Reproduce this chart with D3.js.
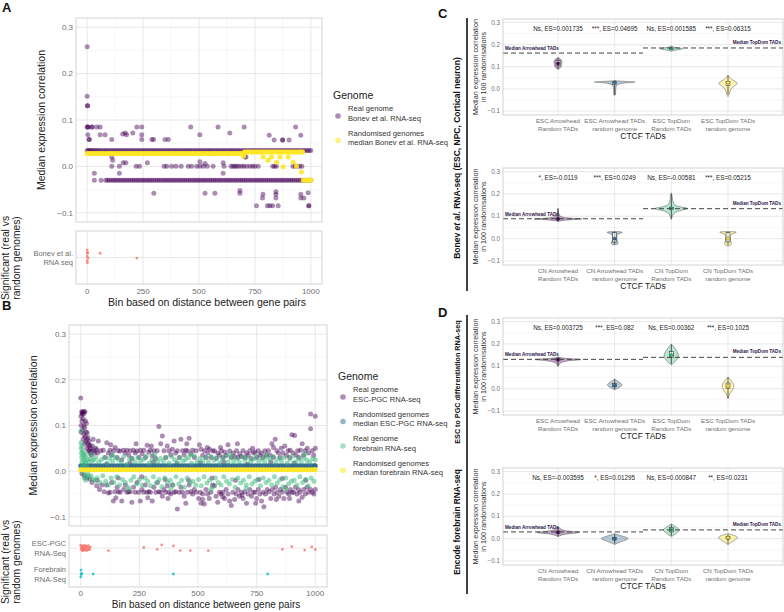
<!DOCTYPE html>
<html>
<head>
<meta charset="utf-8">
<script src="https://cdn.jsdelivr.net/npm/d3@7"></script>
<style>
  body { margin: 0; background: #fff; }
  svg { font-family: "Liberation Sans", Arial, sans-serif; }
</style>
</head>
<body>
<svg id="fig" width="784" height="612"></svg>
<script>
// ---------- shared ticks ----------
const binTicks = [0, 250, 500, 750, 1000];
const binMinor = [125, 375, 625, 875];
const corrTicks = [-0.1, 0, 0.1, 0.2, 0.3];
const corrMinor = [-0.05, 0.05, 0.15, 0.25];

// ---------- panel A : Bonev et al. ----------
// [bin, median correlation]
const bonevReal = [
  [0,0.258],[0,0.151],[1,0.131],[2,0.131],[0,0.085],[2,0.085],[5,0.085],[3,0.068],[8,0.058],[10,0.058],
  [20,0.085],[23,0.085],[43,0.085],[58,0.085],[58,0.068],[80,0.068],[110,0.058],[159,0.07],[170,0.072],
  [176,0.068],[204,0.072],[222,0.085],[244,0.085],[244,0.068],[244,0.058],[289,0.058],[297,0.058],
  [348,0.058],[363,0.058],[463,0.085],[504,0.068],[585,0.085],[638,0.072],[702,0.085],[932,0.085],
  [814,0.067],[955,0.067],[836,0.057],[874,0.057],[874,0.057],[903,0.057],
  [110,0.02],[114,0.013],[161,0.008],[173,0.008],[269,0.008],[504,0.01],[527,0.006],[608,0.008],
  [705,0.02],[710,0.02],
  [32,-0.015],[144,-0.015],[608,-0.015],[298,-0.058],[527,-0.058],[571,-0.058],[683,-0.052],
  [683,-0.058],[786,-0.06],[844,-0.055],[844,-0.06],[784,-0.068],[844,-0.068],[757,-0.085],
  [806,-0.085],[817,-0.085],[829,-0.085],[854,-0.085],[955,-0.068],[969,-0.068],[988,-0.057],
  [991,-0.085],[991,-0.085],[955,-0.06]
];
// dense rows of real-genome medians: [value, bins]
const bonevRows = [
  [0.034, [0,5,11,17,24,31,38,46,53,61,70,78,86,95,104,112,121,129,138,146,155,163,172,181,189,198,
           206,215,224,232,241,250,258,267,276,284,293,301,310,318,327,336,344,353,362,370,379,388,
           396,405,414,422,431,440,448,457,465,474,483,491,500,509,517,526,535,543,552,560,569,578,
           586,595,604,612,621,630,638,647,655,664,673,681,690,699,707,716,725,733,742,750,759,768,
           776,785,794,802,811,820,828,837,845,854,863,871,880,889,897,906,915,923,932,940,949,958,
           966,975,984,992,1000]],
  [0.0, [110,144,219,234,344,356,378,397,420,452,467,490,504,519,537,563,612,643,652,660,668,
         677,690,700,713,728,740,750,765,830,838,846,920,930,940,950,960]],
  [-0.03, [32,62,83,91,99,108,117,125,134,142,151,160,168,177,185,194,203,211,220,228,237,246,254,
           263,272,280,289,297,306,315,323,332,341,349,358,366,375,384,392,401,410,418,427,435,444,
           453,461,470,479,487,496,504,513,522,530,539,548,556,565,573,582,591,599,608,617,625,634,
           642,651,660,668,677,686,694,703,711,720,729,737,746,755,763,772,780,789,798,806,815,824,
           832,841,849,858,867,875,884,893,901,910,918,927,936,944,953,962,970,979,988,996,1000]]
];
const bonevRandom = [
  [700,0.022],[787,0.02],[809,0.013],[824,0.02],[847,0.009],[862,0.02],[876,-0.001],[899,0.02],
  [921,0.009],[936,0.0],[958,-0.012],[966,-0.03],[975,-0.03],[985,-0.03],[995,-0.03],[1000,-0.03]
];
const bonevRandomRows = [
  [0.028, [0,7,15,23,31,39,47,55,63,71,79,87,95,103,111,119,127,135,143,151,159,167,175,183,191,
           199,207,215,223,231,239,247,255,263,271,279,287,295,303,311,319,327,335,343,351,359,367,
           375,383,391,399,407,415,423,431,439,447,455,463,471,479,487,495,503,511,519,527,535,543,
           551,559,567,575,583,591,599,607,615,623,631,639,647,655,663,671,679,687,695]],
  [0.031, [703,711,719,727,735,743,751,759,767,775,783,791,799,807,815,823,831,839,847,855,863,871,
           879,887,895,903,911,919,927,935,943,951,959,963]]
];
// significant bins (bin, vertical jitter in category steps)
const bonevSig = [[0,-0.14],[1,-0.08],[2,-0.09],[0,-0.02],[4,0.01],[0,0.06],[1,0.1],[58,-0.08],[222,0.01]];
const bonevCat = ['Bonev et al.|RNA seq'];

// ---------- panel B : ESC-PGC and forebrain ----------
const pgcReal = [
  [0,0.16],[1,0.12],[2,0.10],[3,0.085],[4,0.13],[5,0.11],[6,0.125],[7,0.128],[8,0.09],[9,0.13],
  [10,0.115],[11,0.07],[12,0.125],[13,0.1],[14,0.08],[15,0.13],[16,0.06],[17,0.095],[18,0.13],
  [19,0.075],[20,0.11],[22,0.065],[23,0.085],[24,0.105],[26,0.05],[27,0.084],[28,0.07],[30,0.06],
  [31,0.074],[33,0.045],[35,0.055],[36,0.065],[38,0.045],[39,0.057],[41,0.04],[43,0.05],[45,0.035],
  [47,0.045],[50,0.055],[53,0.07],[56,0.045],[60,0.04],[64,0.05],[68,0.047],[70,-0.02],[72,0.04],
  [75,0.066],[5,-0.005],[15,-0.01],[25,-0.015],[39,-0.017],[48,-0.025],[68,-0.032],[80,-0.04],[90,-0.03],
  [85,0.045],[96,0.046],[105,0.03],[111,0.062],[118,0.04],[125,0.046],[132,0.035],[140,0.045],
  [147,0.052],[155,0.03],[160,0.045],[168,0.044],[175,0.025],[182,0.046],[190,0.04],[197,0.046],
  [205,0.035],[211,0.045],[218,0.028],[225,0.046],[232,0.04],[240,0.044],[248,0.03],[254,0.046],
  [262,0.038],[269,0.046],[276,0.03],[283,0.057],[290,0.042],[297,0.046],[305,0.034],[312,0.045],
  [320,0.028],[326,0.045],[333,0.098],[341,0.06],[348,0.077],[355,0.045],[362,0.03],[369,0.055],
  [376,0.045],[384,0.036],[391,0.048],[398,0.066],[405,0.04],[412,0.045],[420,0.03],[427,0.07],
  [434,0.045],[441,0.036],[448,0.046],[455,0.044],[462,0.072],[470,0.038],[477,0.046],[485,0.03],[492,0.045],
  [100,-0.045],[110,-0.03],[118,-0.048],[125,-0.046],[132,-0.025],[139,-0.065],[146,-0.045],[155,-0.035],
  [161,-0.045],[168,-0.046],[175,-0.065],[183,-0.04],[190,-0.03],[197,-0.046],[204,-0.045],[211,-0.045],
  [218,-0.068],[225,-0.035],[232,-0.046],[240,-0.025],[247,-0.046],[254,-0.065],[261,-0.04],[268,-0.046],
  [275,-0.03],[282,-0.046],[290,-0.045],[297,-0.046],[305,-0.065],[312,-0.035],[320,-0.046],[327,-0.025],
  [333,-0.045],[340,-0.046],[348,-0.055],[355,-0.04],[362,-0.046],[369,-0.032],[376,-0.046],[384,-0.05],
  [391,-0.03],[398,-0.046],[405,-0.045],[412,-0.083],[420,-0.046],[427,-0.035],[434,-0.046],[441,-0.055],
  [448,-0.07],[455,-0.046],[462,-0.03],[470,-0.045],[477,-0.05],[484,-0.04],[492,-0.046],
  [506,0.058],[513,0.048],[520,0.035],[528,0.045],[535,0.03],[542,0.04],[549,0.048],[556,0.03],
  [563,0.045],[570,0.044],[578,0.028],[585,0.04],[592,0.035],[600,0.045],[607,0.03],[614,0.042],
  [621,0.035],[628,0.058],[635,0.044],[642,0.03],[650,0.04],[657,0.032],[664,0.045],[671,0.03],
  [678,0.038],[685,0.032],[692,0.045],[700,0.03],[707,0.04],[714,0.035],[721,0.045],[728,0.028],
  [736,0.04],[743,0.042],[750,0.03],[757,0.045],[764,0.035],[771,0.04],[778,0.03],[785,0.045],[792,0.035],
  [503,-0.06],[510,-0.046],[513,-0.07],[520,-0.05],[527,-0.072],[534,-0.04],[541,-0.05],[548,-0.06],
  [555,-0.046],[562,-0.03],[570,-0.032],[577,-0.055],[584,-0.068],[591,-0.046],[598,-0.05],[606,-0.046],
  [613,-0.06],[620,-0.04],[628,-0.05],[635,-0.065],[642,-0.075],[649,-0.046],[656,-0.062],[663,-0.05],
  [670,-0.04],[677,-0.055],[685,-0.046],[692,-0.06],[700,-0.045],[707,-0.07],[714,-0.05],[721,-0.04],
  [728,-0.055],[736,-0.046],[743,-0.046],[750,-0.06],[757,-0.04],[764,-0.05],[771,-0.065],[778,-0.046],
  [781,-0.078],[788,-0.05],[795,-0.04],
  [800,0.045],[808,0.035],[815,0.06],[822,0.03],[829,0.07],[836,0.045],[843,0.04],[850,0.03],[855,0.05],
  [862,0.04],[870,0.055],[877,0.035],[884,0.045],[891,0.03],[893,0.046],[900,0.08],[906,0.04],[912,0.078],
  [918,0.035],[925,0.045],[931,0.03],[937,0.046],[944,0.06],[950,0.035],[957,0.045],[966,0.05],[972,0.04],
  [980,0.093],[980,0.125],[987,0.045],[993,0.035],[1000,0.05],[1000,0.12],
  [803,-0.045],[810,-0.06],[817,-0.04],[824,-0.05],[831,-0.035],[838,-0.046],[845,-0.055],[852,-0.04],
  [859,-0.046],[866,-0.06],[873,-0.035],[880,-0.046],[887,-0.05],[894,-0.04],[901,-0.046],[908,-0.046],
  [915,-0.035],[922,-0.05],[929,-0.04],[936,-0.046],[944,-0.057],[951,-0.04],[958,-0.05],[965,-0.035],
  [972,-0.046],[980,-0.04],[987,-0.046],[994,-0.05],[1000,-0.04],
  [110,0.015],[160,-0.015],[210,0.018],[260,-0.012],[310,0.02],[360,-0.018],[410,0.016],[460,-0.02],
  [510,0.018],[560,-0.015],[610,0.02],[660,-0.02],[710,0.015],[760,-0.018],[810,0.02],[860,-0.016],
  [910,0.018],[960,-0.02],
  [128,0.058],[236,0.06],[301,0.055],[452,0.06],[540,0.052],[596,0.052],[668,0.06],[733,0.05],[822,0.052],
  [150,-0.058],[286,-0.058],[372,-0.06],[520,-0.062],[606,-0.056],[688,-0.052],[746,-0.07],[834,-0.062],
  [890,-0.06],[930,-0.065]
];
const pgcRandomRow = [0.012, [0,12,24,36,48,60,72,84,96,108,120,132,144,156,168,180,192,204,216,228,240,
  252,264,276,288,300,312,324,336,348,360,372,384,396,408,420,432,444,456,468,480,492,504,516,528,540,
  552,564,576,588,600,612,624,636,648,660,672,684,696,708,720,732,744,756,768,780,792,804,816,828,840,
  852,864,876,888,900,912,924,936,948,960,972,984,996,1000]];
const foreReal = [
  [0,0.088],[1,0.062],[2,0.05],[3,0.04],[4,0.03],[5,0.055],[6,0.02],[7,0.01],[8,0.045],[10,0.035],
  [11,-0.005],[12,0.025],[14,0.04],[15,-0.015],[16,0.015],[18,0.03],[20,0.02],[21,-0.02],[22,0.035],
  [25,0.01],[27,-0.01],[28,0.025],[30,-0.005],[33,0.02],[36,-0.012],[40,0.028],[44,-0.01],[48,0.022],
  [52,-0.018],[56,0.025],[60,-0.02],[64,0.03],[70,-0.015],[76,0.02],[82,-0.025],[88,0.025],[94,-0.01],
  [100,0.03],[106,-0.022],[112,0.018],[118,-0.03],[124,0.028],[130,-0.015],[136,0.022],[142,-0.025],
  [148,0.03],[154,-0.012],[160,0.025],[166,-0.03],[172,0.02],[178,-0.018],[184,0.032],[190,-0.025],
  [196,0.015],[202,-0.035],[208,0.025],[214,-0.02],[220,0.028],[226,-0.012],[232,0.02],[238,-0.028],
  [244,0.03],[250,-0.018],[256,0.022],[262,-0.03],[268,0.026],[274,-0.015],[280,0.033],[286,-0.022],
  [292,0.018],[298,-0.032],[304,0.024],[310,-0.012],[316,0.03],[322,-0.026],[328,0.02],[334,-0.018],
  [340,0.028],[346,-0.034],[352,0.022],[358,-0.015],[364,0.03],[370,-0.025],[376,0.018],[382,-0.02],
  [388,0.032],[394,-0.03],[400,0.025],[406,-0.012],[412,0.02],[418,-0.028],[424,0.03],[430,-0.02],
  [436,0.022],[442,-0.035],[448,0.026],[454,-0.015],[460,0.03],[466,-0.025],[472,0.018],[478,-0.022],
  [484,0.033],[490,-0.03],[496,0.02],[502,-0.018],[508,0.028],[514,-0.032],[520,0.022],[526,-0.012],
  [532,0.03],[538,-0.026],[544,0.02],[550,-0.02],[556,0.032],[562,-0.034],[568,0.024],[574,-0.015],
  [580,0.03],[586,-0.025],[592,0.018],[598,-0.03],[604,0.026],[610,-0.012],[616,0.033],[622,-0.022],
  [628,0.02],[634,-0.028],[640,0.03],[646,-0.018],[652,0.022],[658,-0.035],[664,0.028],[670,-0.015],
  [676,0.02],[682,-0.026],[688,0.032],[694,-0.02],[700,0.024],[706,-0.03],[712,0.03],[718,-0.012],
  [724,0.02],[730,-0.028],[736,0.026],[742,-0.022],[748,0.033],[754,-0.018],[760,0.022],[766,-0.032],
  [772,0.028],[778,-0.015],[784,0.02],[790,-0.025],[796,0.03],[802,-0.02],[808,0.024],[814,-0.03],
  [820,0.032],[826,-0.012],[832,0.02],[838,-0.026],[844,0.028],[850,-0.018],[856,0.022],[862,-0.034],
  [868,0.03],[874,-0.015],[880,0.018],[886,-0.028],[892,0.026],[898,-0.022],[904,0.033],[910,-0.02],
  [916,0.02],[922,-0.03],[928,0.028],[934,-0.012],[940,0.022],[946,-0.025],[952,0.03],[958,-0.018],
  [964,0.024],[970,-0.032],[976,0.02],[982,-0.015],[988,0.028],[994,-0.022],[1000,0.025],
  [45,0.038],[135,0.036],[205,-0.04],[315,0.038],[385,-0.038],[470,0.036],[555,-0.04],[640,0.038],
  [705,-0.038],[790,0.036],[875,-0.04],[955,0.038]
];
const foreRandomRow = [0.003, [0,12,24,36,48,60,72,84,96,108,120,132,144,156,168,180,192,204,216,228,240,
  252,264,276,288,300,312,324,336,348,360,372,384,396,408,420,432,444,456,468,480,492,504,516,528,540,
  552,564,576,588,600,612,624,636,648,660,672,684,696,708,720,732,744,756,768,780,792,804,816,828,840,
  852,864,876,888,900,912,924,936,948,960,972,984,996,1000]];
const sigCats = ['ESC-PGC|RNA-Seq', 'Forebrain|RNA-Seq'];
const pgcSig = [[0,-0.1],[2,0.05],[3,-0.02],[5,0.08],[6,-0.08],[8,0.03],[9,0.1],[10,-0.05],[12,0.0],
  [13,0.09],[15,-0.1],[16,0.04],[18,-0.03],[20,0.08],[22,-0.08],[24,0.01],[26,0.1],[28,-0.05],[30,0.05],
  [32,-0.09],[35,0.02],[38,0.07],[40,-0.03],[118,0.1],[269,-0.02],[326,0.05],[345,-0.12],[395,-0.08],
  [424,0.1],[467,0.1],[544,0.1],[860,0.05],[900,-0.05],[955,0.08],[985,-0.04],[1000,0.06]];
const foreSig = [[0,0.12],[2,0.02],[1,-0.15],[4,-0.02],[53,0.0],[395,0.0],[797,0.0]];

// ---------- panels C and D : violins ----------
const tadLabels = [['Arrowhead', 'Random TADs'], ['Arrowhead TADs', 'random genome'],
                   ['TopDom', 'Random TADs'], ['TopDom TADs', 'random genome']];
const cTopAnnot = ['Ns, ES=0.001735', '***, ES=0.04695', 'Ns, ES=0.001585', '***, ES=0.06315'];
const cBotAnnot = ['*, ES=-0.0119', '***, ES=0.0249', 'Ns, ES=-0.00581', '***, ES=0.05215'];
const dTopAnnot = ['Ns, ES=0.003725', '***, ES=0.082', 'Ns, ES=0.00362', '***, ES=0.1025'];
const dBotAnnot = ['Ns, ES=-0.003595', '*, ES=0.01295', 'Ns, ES=0.000847', '**, ES=0.0231'];
// real-TAD medians for the dashed reference lines: C top, C bottom, D top, D bottom
const medArrowhead = [0.162, 0.089, 0.131, 0.030];
const medTopDom = [0.185, 0.134, 0.140, 0.039];
// violin profiles: [correlation, relative density]
const cTopViolins = [
  [[0.088,0],[0.095,0.08],[0.105,0.13],[0.112,0.1],[0.12,0.14],[0.13,0.12],[0.138,0.06],[0.142,0]],
  [[-0.03,0],[-0.025,0.04],[-0.01,0.03],[0.0,0.04],[0.02,0.05],[0.028,0.3],[0.031,0.87],[0.034,0.3],[0.037,0]],
  [[0.17,0],[0.176,0.15],[0.181,0.47],[0.186,0.2],[0.19,0.05],[0.194,0]],
  [[-0.035,0],[-0.025,0.04],[-0.01,0.06],[0.01,0.15],[0.025,0.37],[0.035,0.2],[0.05,0.06],[0.063,0]]
];
const cBotViolins = [
  [[0.075,0],[0.08,0.05],[0.085,0.4],[0.088,1.0],[0.091,0.4],[0.096,0.1],[0.105,0.05],[0.115,0.02],[0.125,0.01],[0.135,0]],
  [[-0.028,0],[-0.025,0.1],[-0.02,0.13],[-0.01,0.08],[0.0,0.07],[0.01,0.07],[0.02,0.09],[0.027,0.25],[0.03,0.28],[0.032,0]],
  [[0.085,0],[0.1,0.03],[0.12,0.1],[0.13,0.45],[0.135,0.6],[0.14,0.4],[0.145,0.15],[0.16,0.05],[0.2,0.02],[0.205,0]],
  [[-0.033,0],[-0.03,0.1],[-0.02,0.12],[-0.01,0.08],[0.0,0.07],[0.01,0.07],[0.02,0.1],[0.027,0.27],[0.03,0.3],[0.032,0]]
];
const dTopViolins = [
  [[0.1,0],[0.105,0.03],[0.115,0.06],[0.125,0.25],[0.13,1.0],[0.134,0.35],[0.138,0.08],[0.142,0]],
  [[-0.005,0],[0.005,0.15],[0.015,0.27],[0.025,0.2],[0.035,0.08],[0.043,0]],
  [[0.105,0],[0.12,0.12],[0.135,0.22],[0.15,0.25],[0.165,0.2],[0.18,0.12],[0.195,0.04],[0.2,0]],
  [[-0.045,0],[-0.03,0.03],[-0.01,0.12],[0.005,0.2],[0.015,0.2],[0.03,0.14],[0.045,0.05],[0.052,0]]
];
const dBotViolins = [
  [[0.008,0],[0.015,0.08],[0.022,0.3],[0.028,0.9],[0.033,0.3],[0.04,0.1],[0.05,0.04],[0.055,0]],
  [[-0.027,0],[-0.02,0.08],[-0.01,0.3],[0.0,0.5],[0.008,0.35],[0.015,0.15],[0.022,0]],
  [[0.008,0],[0.02,0.12],[0.035,0.27],[0.042,0.28],[0.055,0.12],[0.066,0]],
  [[-0.028,0],[-0.018,0.08],[-0.005,0.25],[0.005,0.35],[0.013,0.25],[0.022,0]]
];
// box summaries: [min, q1, median, q3, max]
const cTopBoxes = [[0.09,0.105,0.115,0.128,0.14],[-0.027,0.02,0.03,0.031,0.033],[0.176,0.179,0.182,0.185,0.19],[-0.025,0.015,0.028,0.034,0.06]];
const cBotBoxes = [[0.078,0.085,0.088,0.092,0.135],[-0.025,-0.015,0.0,0.027,0.031],[0.09,0.13,0.135,0.14,0.2],[-0.03,-0.015,0.0,0.027,0.031]];
const dTopBoxes = [[0.1,0.124,0.13,0.134,0.14],[-0.003,0.008,0.015,0.022,0.042],[0.11,0.138,0.15,0.165,0.198],[-0.042,0.0,0.012,0.025,0.05]];
const dBotBoxes = [[0.01,0.022,0.028,0.034,0.052],[-0.022,-0.006,0.0,0.006,0.02],[0.012,0.03,0.04,0.05,0.064],[-0.025,-0.002,0.005,0.01,0.02]];

// ---------- styling ----------
const svg = d3.select('#fig');
const purple = '#440154', teal = '#31688E', green = '#35B779', yellow = '#FDE725';
const violinFill = [purple, teal, green, yellow];
const gridMajor = '#E2E2E2', gridMinor = '#F1F1F1', borderCol = '#C9C9C9', tickCol = '#707070';
const rowPts = rows => rows.flatMap(([v, bins]) => bins.map(b => [b, v]));

svg.append('rect').attr('width', 784).attr('height', 612).attr('fill', '#fff');

function grid(g, x, y, xs, xm, ys, ym) {
  const [x0, x1] = x.range(), [y0, y1] = y.range();
  g.append('g').selectAll('line').data(xm).enter().append('line')
    .attr('x1', d => x(d)).attr('x2', d => x(d)).attr('y1', y0).attr('y2', y1)
    .attr('stroke', gridMinor).attr('stroke-width', 0.5);
  g.append('g').selectAll('line').data(ym).enter().append('line')
    .attr('x1', x0).attr('x2', x1).attr('y1', d => y(d)).attr('y2', d => y(d))
    .attr('stroke', gridMinor).attr('stroke-width', 0.5);
  g.append('g').selectAll('line').data(xs).enter().append('line')
    .attr('x1', d => x(d)).attr('x2', d => x(d)).attr('y1', y0).attr('y2', y1)
    .attr('stroke', gridMajor).attr('stroke-width', 0.8);
  g.append('g').selectAll('line').data(ys).enter().append('line')
    .attr('x1', x0).attr('x2', x1).attr('y1', d => y(d)).attr('y2', d => y(d))
    .attr('stroke', gridMajor).attr('stroke-width', 0.8);
}
function border(g, x, y) {
  const [x0, x1] = x.range(), [y0, y1] = y.range();
  g.append('rect').attr('x', x0).attr('y', y1).attr('width', x1 - x0).attr('height', y0 - y1)
    .attr('fill', 'none').attr('stroke', borderCol).attr('stroke-width', 0.8);
}
function yTickLabels(g, y, vals, xPos, size) {
  g.append('g').selectAll('text').data(vals).enter().append('text')
    .attr('x', xPos).attr('y', d => y(d)).attr('dy', '0.35em').attr('text-anchor', 'end')
    .attr('font-size', size).attr('fill', tickCol).text(d => d3.format('.1f')(d));
}
function dots(g, data, x, y, color, op, r) {
  g.append('g').selectAll('circle').data(data).enter().append('circle')
    .attr('cx', d => x(d[0])).attr('cy', d => y(d[1])).attr('r', r)
    .attr('fill', color).attr('fill-opacity', op);
}
function twoLine(g, xPos, yPos, txt, size, color, anchor, lh) {
  const t = g.append('text').attr('x', xPos).attr('y', yPos).attr('font-size', size)
    .attr('fill', color).attr('text-anchor', anchor);
  txt.split('|').forEach((s, i) => t.append('tspan').attr('x', xPos).attr('dy', i ? lh : 0).text(s));
  return t;
}
function panelLetter(txt, xPos, yPos) {
  svg.append('text').attr('x', xPos).attr('y', yPos).attr('font-size', 13).attr('font-weight', 'bold')
    .attr('fill', '#111').text(txt);
}

// ---------- scatter panels ----------
function scatterPanel(o) {
  const g = svg.append('g');
  const x = d3.scaleLinear().domain([-50, 1050]).range([o.left, o.right]);
  const y = d3.scaleLinear().domain([-0.12, 0.32]).range([o.bottom, o.top]);
  grid(g, x, y, binTicks, binMinor, corrTicks, corrMinor);
  o.series.forEach(s => dots(g, s.data, x, y, s.color, s.op, 2.5));
  border(g, x, y);
  yTickLabels(g, y, corrTicks, o.left - 3, 8);

  // significance strip
  const ys = d3.scalePoint().domain(o.cats).range([o.sTop, o.sBottom]).padding(0.5);
  const yStrip = d3.scaleLinear().domain([0, 1]).range([o.sBottom, o.sTop]);
  grid(g, x, yStrip, binTicks, binMinor, [], []);
  g.append('g').selectAll('line').data(o.cats).enter().append('line')
    .attr('x1', o.left).attr('x2', o.right).attr('y1', d => ys(d)).attr('y2', d => ys(d))
    .attr('stroke', gridMajor).attr('stroke-width', 0.8);
  o.sig.forEach(s => {
    g.append('g').selectAll('circle').data(s.data).enter().append('circle')
      .attr('cx', d => x(d[0])).attr('cy', d => ys(s.cat) + d[1] * ys.step())
      .attr('r', 1.4).attr('fill', s.color).attr('fill-opacity', 0.8);
  });
  border(g, x, yStrip);
  o.cats.forEach(c => twoLine(g, o.left - 3, ys(c) - 2, c, 7.5, tickCol, 'end', 9.5));

  g.append('g').selectAll('text').data(binTicks).enter().append('text')
    .attr('x', d => x(d)).attr('y', o.sBottom + o.tickDy).attr('text-anchor', 'middle')
    .attr('font-size', 8).attr('fill', tickCol).text(d => d);
  g.append('text').attr('x', (o.left + o.right) / 2 + 8).attr('y', o.sBottom + o.titleDy)
    .attr('text-anchor', 'middle').attr('font-size', o.titleSize).attr('fill', '#222')
    .text('Bin based on distance between gene pairs');
  g.append('text').attr('transform', `translate(${o.yTitleX},${(o.top + o.bottom) / 2}) rotate(-90)`)
    .attr('text-anchor', 'middle').attr('font-size', 10.5).attr('fill', '#222')
    .text('Median expression correlation');
  const st = g.append('text').attr('transform', `translate(9,${o.sigTitleY}) rotate(-90)`)
    .attr('text-anchor', 'middle').attr('font-size', 10.3).attr('fill', '#222');
  st.append('tspan').attr('x', 0).attr('dy', 0).text('Significant (real vs');
  st.append('tspan').attr('x', 0).attr('dy', 11).text('random genomes)');

  // legend
  const lg = g.append('g');
  lg.append('text').attr('x', o.legX).attr('y', o.legY).attr('font-size', 10.5).attr('fill', '#222').text('Genome');
  o.series.forEach((s, i) => {
    const cy = o.legY + 17 + i * 24.5;
    lg.append('circle').attr('cx', o.legX + 5).attr('cy', cy).attr('r', 2.8)
      .attr('fill', s.color).attr('fill-opacity', s.legOp);
    twoLine(lg, o.legX + 15, cy - 5, s.label, 7.6, '#333', 'start', 9.5);
  });
}

scatterPanel({
  left: 76, right: 322, top: 18, bottom: 222, sTop: 231, sBottom: 284, tickDy: 10, titleDy: 22, titleSize: 10.5,
  cats: bonevCat, yTitleX: 45, sigTitleY: 258, legX: 333, legY: 99,
  series: [
    { data: bonevReal.concat(rowPts(bonevRows)), color: purple, op: 0.45, legOp: 0.45, label: 'Real genome|Bonev et al. RNA-seq' },
    { data: bonevRandom.concat(rowPts(bonevRandomRows)), color: yellow, op: 0.9, legOp: 0.6, label: 'Randomised genomes|median Bonev et al. RNA-seq' }
  ],
  sig: [{ cat: bonevCat[0], data: bonevSig, color: '#F8766D' }]
});
panelLetter('A', 2, 12);

scatterPanel({
  left: 69, right: 327, top: 325, bottom: 526, sTop: 535, sBottom: 587, tickDy: 8.5, titleDy: 20.5, titleSize: 10,
  cats: sigCats, yTitleX: 37, sigTitleY: 562, legX: 338, legY: 380,
  series: [
    { data: pgcReal, color: purple, op: 0.45, legOp: 0.45, label: 'Real genome|ESC-PGC RNA-seq' },
    { data: rowPts([pgcRandomRow]), color: teal, op: 0.9, legOp: 0.5, label: 'Randomised genomes|median ESC-PGC RNA-seq' },
    { data: foreReal, color: green, op: 0.5, legOp: 0.45, label: 'Real genome|forebrain RNA-seq' },
    { data: rowPts([foreRandomRow]), color: yellow, op: 0.95, legOp: 0.6, label: 'Randomised genomes|median forebrain RNA-seq' }
  ],
  sig: [{ cat: sigCats[0], data: pgcSig, color: '#F8766D' }, { cat: sigCats[1], data: foreSig, color: '#00BFC4' }]
});
panelLetter('B', 2, 310);

// ---------- violin panels ----------
function violinPanel(o) {
  const g = svg.append('g');
  const left = 503, right = 783;
  const xu = d3.scaleLinear().domain([1, 4]).range([558, 728]);
  const y = d3.scaleLinear().domain([-0.118, 0.316]).range([o.bottom, o.top]);
  const xr = d3.scaleLinear().domain([0, 1]).range([left, right]);
  grid(g, xr, y, [], [], corrTicks, corrMinor);
  g.append('g').selectAll('line').data([1, 2, 3, 4]).enter().append('line')
    .attr('x1', d => xu(d)).attr('x2', d => xu(d)).attr('y1', o.top).attr('y2', o.bottom)
    .attr('stroke', gridMajor).attr('stroke-width', 0.7);

  const w = d3.scaleLinear().domain([0, 1]).range([0, 30]);
  o.violins.forEach((prof, i) => {
    const cx = xu(i + 1);
    g.append('path').datum(prof)
      .attr('d', d3.area().curve(d3.curveBasis).y(d => y(d[0]))
        .x0(d => cx - w(d[1])).x1(d => cx + w(d[1])))
      .attr('fill', violinFill[i]).attr('fill-opacity', 0.35)
      .attr('stroke', '#555').attr('stroke-width', 0.5);
    const b = o.boxes[i];
    g.append('line').attr('x1', cx).attr('x2', cx).attr('y1', y(b[0])).attr('y2', y(b[4]))
      .attr('stroke', '#222').attr('stroke-width', 0.7);
    g.append('rect').attr('x', cx - 2).attr('width', 4).attr('y', y(b[3]))
      .attr('height', Math.max(1, y(b[1]) - y(b[3])))
      .attr('fill', '#fff').attr('fill-opacity', 0.6).attr('stroke', '#222').attr('stroke-width', 0.5);
    g.append('circle').attr('cx', cx).attr('cy', y(b[2])).attr('r', 1.6)
      .attr('fill', violinFill[i]).attr('stroke', '#222').attr('stroke-width', 0.3);
  });

  // real-TAD median reference lines
  const clipX = v => Math.max(left, Math.min(right, xu(v)));
  [[0, 2.5, o.medA], [2.5, 5, o.medT]].forEach(([a, c, m]) => {
    g.append('line').attr('x1', clipX(a)).attr('x2', clipX(c)).attr('y1', y(m)).attr('y2', y(m))
      .attr('stroke', '#444').attr('stroke-width', 1).attr('stroke-dasharray', '5,3');
  });
  g.append('text').attr('x', left + 2).attr('y', y(o.medA) - 3).attr('font-size', 4.6)
    .attr('font-weight', 'bold').attr('fill', '#2A1448').text('Median Arrowhead TADs');
  g.append('text').attr('x', right - 2).attr('y', y(o.medT) - 4).attr('font-size', 4.6)
    .attr('text-anchor', 'end').attr('font-weight', 'bold').attr('fill', '#2A1448').text('Median TopDom TADs');

  g.append('g').selectAll('text').data(o.annot).enter().append('text')
    .attr('x', (d, i) => xu(i + 1)).attr('y', o.top + 12).attr('text-anchor', 'middle')
    .attr('font-size', 6.3).attr('fill', '#222').text(d => d);

  border(g, xr, y);
  yTickLabels(g, y, corrTicks, left - 3, 6.3);
  tadLabels.forEach((l, i) => twoLine(g, xu(i + 1), o.bottom + 8, o.prefix + ' ' + l[0] + '|' + l[1], 6.2, tickCol, 'middle', 7.5));
  g.append('text').attr('x', (left + right) / 2).attr('y', o.bottom + 24).attr('text-anchor', 'middle')
    .attr('font-size', 8.5).attr('fill', '#222').text('CTCF TADs');
  const yt = g.append('text').attr('transform', `translate(478,${(o.top + o.bottom) / 2}) rotate(-90)`)
    .attr('text-anchor', 'middle').attr('font-size', 7.2).attr('fill', '#333');
  yt.append('tspan').attr('x', 0).attr('dy', 0).text('Median expression correlation');
  yt.append('tspan').attr('x', 0).attr('dy', 8.2).text('in 100 randomisations');
}

violinPanel({ top: 19, bottom: 115, prefix: 'ESC', annot: cTopAnnot, medA: medArrowhead[0], medT: medTopDom[0], violins: cTopViolins, boxes: cTopBoxes });
violinPanel({ top: 168, bottom: 265, prefix: 'CN', annot: cBotAnnot, medA: medArrowhead[1], medT: medTopDom[1], violins: cBotViolins, boxes: cBotBoxes });
violinPanel({ top: 318, bottom: 415, prefix: 'ESC', annot: dTopAnnot, medA: medArrowhead[2], medT: medTopDom[2], violins: dTopViolins, boxes: dTopBoxes });
violinPanel({ top: 468, bottom: 565, prefix: 'CN', annot: dBotAnnot, medA: medArrowhead[3], medT: medTopDom[3], violins: dBotViolins, boxes: dBotBoxes });

panelLetter('C', 438, 18);
panelLetter('D', 438, 317);

// group labels with black bars
svg.append('line').attr('x1', 467).attr('x2', 467).attr('y1', 18).attr('y2', 291).attr('stroke', '#111').attr('stroke-width', 1.6);
svg.append('line').attr('x1', 467).attr('x2', 467).attr('y1', 315).attr('y2', 594).attr('stroke', '#111').attr('stroke-width', 1.6);
const gl = svg.append('text').attr('transform', 'translate(460,158) rotate(-90)').attr('text-anchor', 'middle')
  .attr('font-size', 8.5).attr('font-weight', 'bold').attr('fill', '#111');
gl.append('tspan').text('Bonev ');
gl.append('tspan').attr('font-style', 'italic').text('et al.');
gl.append('tspan').text(' RNA-seq (ESC, NPC, Cortical neuron)');
svg.append('text').attr('transform', 'translate(460,382) rotate(-90)').attr('text-anchor', 'middle')
  .attr('font-size', 7.2).attr('font-weight', 'bold').attr('fill', '#111').text('ESC to PGC differentiation  RNA-seq');
svg.append('text').attr('transform', 'translate(460,522) rotate(-90)').attr('text-anchor', 'middle')
  .attr('font-size', 8.3).attr('font-weight', 'bold').attr('fill', '#111').text('Encode forebrain RNA-seq');
</script>
</body>
</html>
